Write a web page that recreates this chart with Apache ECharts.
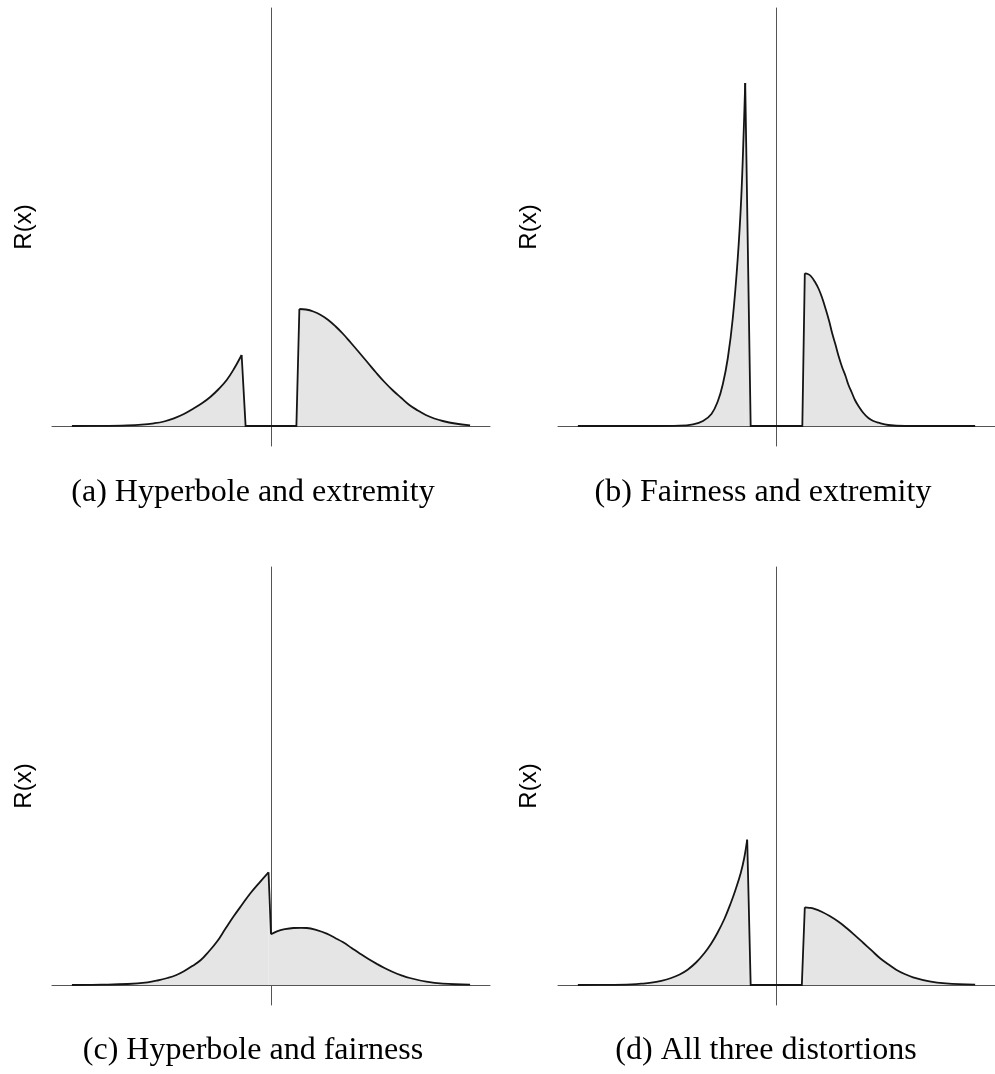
<!DOCTYPE html>
<html>
<head>
<meta charset="utf-8">
<script src="https://cdn.jsdelivr.net/npm/echarts@6/dist/echarts.min.js"></script>
<style>
html,body{margin:0;padding:0;background:#fff;}
#chart{width:995px;height:1074px;}
</style>
</head>
<body>
<div id="chart"></div>
<script>
// Panel captions and axis label
const captions = ['(a) Hyperbole and extremity', '(b) Fairness and extremity', '(c) Hyperbole and fairness', '(d) All three distortions'];
const yLabel = 'R(x)';

// Panel (a): Hyperbole and extremity
const aLeft = [[-4.0,0],[-3.4,0.002],[-2.89,0.007],[-2.6,0.014],[-2.35,0.027],[-2.15,0.045],[-1.95,0.077],[-1.75,0.12],[-1.55,0.177],[-1.38,0.23],[-1.22,0.29],[-1.05,0.37],[-0.89,0.46],[-0.74,0.575],[-0.59,0.71]];
const aJoin = [[-0.59,0.71],[-0.51,0],[0.51,0],[0.57,1.17]];
const aRight = [[0.57,1.17],[0.7,1.165],[0.85,1.145],[1.0,1.11],[1.15,1.06],[1.3,0.995],[1.45,0.92],[1.6,0.835],[1.78,0.73],[1.95,0.63],[2.11,0.535],[2.28,0.44],[2.45,0.355],[2.62,0.28],[2.78,0.21],[2.95,0.155],[3.11,0.11],[3.28,0.075],[3.45,0.05],[3.7,0.025],[4.0,0.007]];

// Panel (b): Fairness and extremity
const bLeft = [[-4.0,0],[-2.5,0],[-1.95,0.003],[-1.68,0.017],[-1.48,0.05],[-1.31,0.12],[-1.18,0.25],[-1.08,0.42],[-0.98,0.68],[-0.88,1.08],[-0.78,1.68],[-0.71,2.28],[-0.66,2.95],[-0.63,3.43]];
const bJoin = [[-0.63,3.43],[-0.52,0],[0.52,0],[0.57,1.527]];
const bRight = [[0.57,1.527],[0.63,1.52],[0.69,1.50],[0.77,1.445],[0.85,1.37],[0.92,1.28],[0.99,1.17],[1.06,1.05],[1.12,0.93],[1.19,0.81],[1.25,0.70],[1.32,0.59],[1.39,0.50],[1.45,0.41],[1.52,0.33],[1.58,0.26],[1.65,0.20],[1.75,0.13],[1.85,0.08],[1.95,0.05],[2.05,0.033],[2.25,0.01],[2.59,0],[4.0,0]];

// Panel (c): Hyperbole and fairness
const cLeft = [[-4.0,0],[-3.4,0.003],[-2.88,0.01],[-2.48,0.027],[-2.28,0.045],[-2.08,0.07],[-1.9,0.1],[-1.75,0.137],[-1.58,0.19],[-1.41,0.25],[-1.25,0.335],[-1.08,0.437],[-0.92,0.56],[-0.75,0.687],[-0.58,0.805],[-0.41,0.92],[-0.21,1.037],[-0.05,1.127]];
const cJoin = [[-0.05,1.127],[0,0.507]];
const cRight = [[0,0.507],[0.12,0.537],[0.28,0.558],[0.45,0.57],[0.6,0.572],[0.72,0.57],[0.92,0.548],[1.12,0.513],[1.28,0.472],[1.45,0.427],[1.62,0.37],[1.79,0.313],[1.95,0.262],[2.12,0.213],[2.28,0.17],[2.45,0.13],[2.62,0.097],[2.79,0.07],[3.12,0.033],[3.45,0.013],[4.0,0.003]];

// Panel (d): All three distortions
const dLeft = [[-4.0,0],[-3.4,0.002],[-2.92,0.007],[-2.72,0.013],[-2.52,0.023],[-2.32,0.042],[-2.12,0.07],[-1.95,0.105],[-1.79,0.153],[-1.62,0.225],[-1.45,0.32],[-1.32,0.41],[-1.19,0.52],[-1.05,0.66],[-0.92,0.82],[-0.82,0.96],[-0.72,1.12],[-0.65,1.27],[-0.59,1.453]];
const dJoin = [[-0.59,1.453],[-0.52,0],[0.51,0],[0.57,0.777]];
const dRight = [[0.57,0.777],[0.66,0.772],[0.75,0.763],[0.92,0.73],[1.08,0.687],[1.25,0.632],[1.41,0.57],[1.58,0.497],[1.75,0.42],[1.92,0.343],[2.08,0.27],[2.25,0.207],[2.41,0.153],[2.58,0.11],[2.75,0.077],[3.08,0.037],[3.41,0.017],[4.0,0.003]];

const panels = [[aLeft,aJoin,aRight],[bLeft,bJoin,bRight],[cLeft,cJoin,cRight],[dLeft,dJoin,dRight]];

const gridPos = [
  {left:52, top:8}, {left:558, top:8},
  {left:52, top:567}, {left:558, top:567}
];
const labelPos = [[24,227],[529,227],[24,786],[529,786]];
const captionPos = [[253,493],[763,493],[253,1051],[766,1051]];

const axisLineStyle = {color:'#555', width:1};
const grids = gridPos.map(p => ({left:p.left, top:p.top, width:438, height:438, containLabel:false}));
const xAxes = gridPos.map((p,i) => ({
  type:'value', gridIndex:i, min:-4.4, max:4.4,
  axisLine:{show:true, onZero:true, lineStyle:axisLineStyle},
  axisTick:{show:false}, axisLabel:{show:false}, splitLine:{show:false}
}));
const yAxes = gridPos.map((p,i) => ({
  type:'value', gridIndex:i, min:-0.2, max:4.18,
  axisLine:{show:true, onZero:true, lineStyle:axisLineStyle},
  axisTick:{show:false}, axisLabel:{show:false}, splitLine:{show:false}
}));

const series = [];
panels.forEach((parts,i) => {
  parts.forEach((d,k) => {
    series.push({
      type:'line', xAxisIndex:i, yAxisIndex:i, data:d,
      smooth: k === 1 ? false : 0.4,
      showSymbol:false, symbol:'none', silent:true,
      lineStyle:{color:'#151515', width:1.8, join:'miter'},
      areaStyle:{color:'#e5e5e5', opacity:1, origin:0},
      z: 3
    });
  });
});

const graphics = [];
labelPos.forEach(p => graphics.push({
  type:'text', x:p[0], y:p[1], rotation:Math.PI/2,
  style:{text:yLabel, font:'24px "Liberation Sans", Arial, sans-serif', fill:'#000', textAlign:'center', textVerticalAlign:'middle'}
}));
captions.forEach((c,i) => graphics.push({
  type:'text', x:captionPos[i][0], y:captionPos[i][1],
  style:{text:c, font:'32px "Liberation Serif", "DejaVu Serif", serif', fill:'#000', textAlign:'center', textVerticalAlign:'middle'}
}));

const chart = echarts.init(document.getElementById('chart'), null, {renderer:'canvas'});
chart.setOption({
  animation:false,
  backgroundColor:'#fff',
  grid:grids, xAxis:xAxes, yAxis:yAxes, series:series, graphic:graphics
});
</script>
</body>
</html>
